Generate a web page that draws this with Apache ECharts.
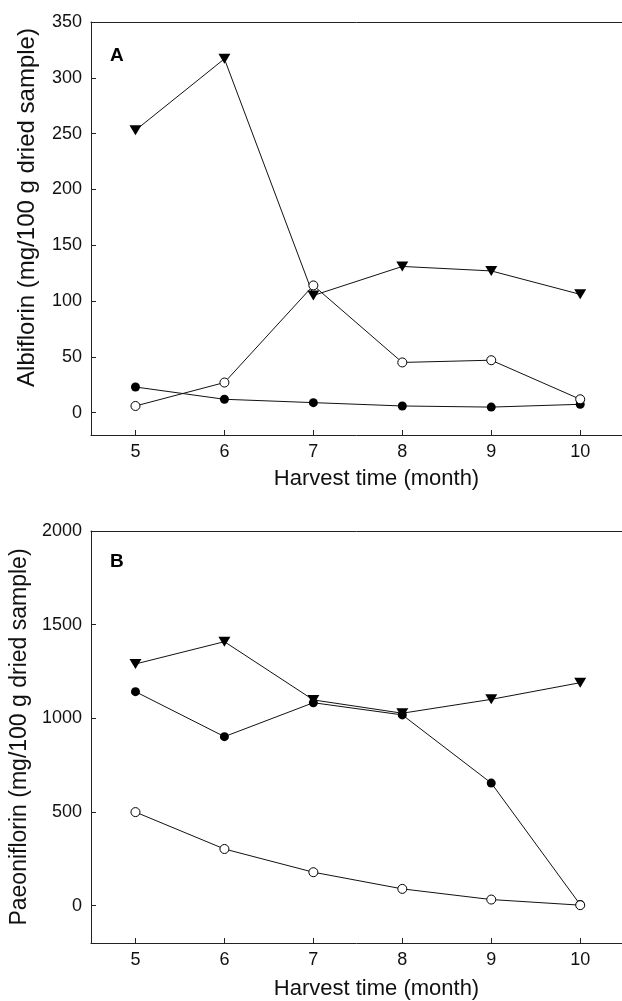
<!DOCTYPE html>
<html>
<head>
<meta charset="utf-8">
<script src="https://cdn.jsdelivr.net/npm/echarts@6/dist/echarts.min.js"></script>
<style>
  html, body { margin: 0; padding: 0; background: #fff; }
  #chart { width: 622px; height: 1001px; }
</style>
</head>
<body>
<div id="chart"></div>
<script>
  // harvest months
  const months = [5, 6, 7, 8, 9, 10];

  // panel A - albiflorin
  const albTriangle = [253, 317, 105, 131, 127, 106];
  const albOpen = [6, 27, 114, 45, 47, 12];
  const albFilled = [23, 12, 9, 6, 5, 7.5];

  // panel B - paeoniflorin
  const paeTriangle = [1290, 1409, 1098, 1027, 1101, 1190];
  const paeFilled = [1142, 902, 1083, 1018, 654, 5];
  const paeOpen = [499, 302, 178, 89, 32, 2];

  const albTicks = [0, 50, 100, 150, 200, 250, 300, 350];
  const paeTicks = [0, 500, 1000, 1500, 2000];

  const chart = echarts.init(document.getElementById('chart'));
  const font = 'Liberation Sans, Arial, sans-serif';
  const ink = '#111';

  const pairs = vals => months.map((m, i) => [m, vals[i]]);

  function bottomAxis(gridIndex, gap) {
    return {
      type: 'value', gridIndex: gridIndex, min: 4.5, max: 10.47,
      name: 'Harvest time (month)', nameLocation: 'middle', nameGap: gap,
      nameTextStyle: { fontFamily: font, fontSize: 22, color: ink, padding: [0, 0, 0, 40] },
      axisLine: { show: true, onZero: false, lineStyle: { color: '#222', width: 1 } },
      axisTick: { show: true, inside: true, length: 5, customValues: months, lineStyle: { color: '#222' } },
      axisLabel: { customValues: months, fontFamily: font, fontSize: 18, color: ink, margin: 8 },
      splitLine: { show: false }
    };
  }
  function topAxis(gridIndex) {
    return {
      type: 'value', gridIndex: gridIndex, position: 'top', min: 4.5, max: 10.47,
      axisLine: { show: true, onZero: false, lineStyle: { color: '#222', width: 1 } },
      axisTick: { show: false }, axisLabel: { show: false }, splitLine: { show: false }
    };
  }
  function leftAxis(gridIndex, min, max, ticks, name, size, pad) {
    return {
      type: 'value', gridIndex: gridIndex, min: min, max: max,
      name: name, nameLocation: 'middle', nameGap: 52,
      nameTextStyle: { fontFamily: font, fontSize: size, color: ink, padding: pad },
      axisLine: { show: true, onZero: false, lineStyle: { color: '#222', width: 1 } },
      axisTick: { show: true, inside: true, length: 5, customValues: ticks, lineStyle: { color: '#222' } },
      axisLabel: { customValues: ticks, fontFamily: font, fontSize: 18, color: ink, margin: 9, formatter: v => String(v) },
      splitLine: { show: false }
    };
  }

  function line(xi, yi, vals, kind) {
    const s = {
      type: 'line', xAxisIndex: xi, yAxisIndex: yi, data: pairs(vals),
      lineStyle: { color: ink, width: 1 }, animation: false, z: 3
    };
    if (kind === 'tri') {
      s.symbol = 'triangle'; s.symbolRotate = 180; s.symbolSize = [12, 10];
      s.itemStyle = { color: '#000' };
    } else if (kind === 'filled') {
      s.symbol = 'circle'; s.symbolSize = 9;
      s.itemStyle = { color: '#000' };
    } else {
      s.symbol = 'circle'; s.symbolSize = 9;
      s.itemStyle = { color: '#fff', borderColor: '#000', borderWidth: 1 };
      s.z = 4;
    }
    return s;
  }

  const option = {
    backgroundColor: '#fff',
    animation: false,
    grid: [
      { left: 91, top: 22, width: 531, height: 413, outerBoundsMode: 'none' },
      { left: 91, top: 531, width: 531, height: 412, outerBoundsMode: 'none' }
    ],
    xAxis: [bottomAxis(0, 33), topAxis(0), bottomAxis(1, 35), topAxis(1)],
    yAxis: [
      leftAxis(0, -20, 350, albTicks, 'Albiflorin (mg/100 g dried sample)', 24, [0, 0, 0, 42]),
      leftAxis(1, -200, 2000, paeTicks, 'Paeoniflorin (mg/100 g dried sample)', 23, 0)
    ],
    graphic: [
      { type: 'text', left: 110, top: 46, style: { text: 'A', fontFamily: font, fontSize: 19, fontWeight: 'bold', fill: '#000' } },
      { type: 'text', left: 110, top: 552, style: { text: 'B', fontFamily: font, fontSize: 19, fontWeight: 'bold', fill: '#000' } }
    ],
    series: [
      line(0, 0, albTriangle, 'tri'),
      line(0, 0, albFilled, 'filled'),
      line(0, 0, albOpen, 'open'),
      line(2, 1, paeTriangle, 'tri'),
      line(2, 1, paeFilled, 'filled'),
      line(2, 1, paeOpen, 'open')
    ]
  };

  chart.setOption(option);
  window.addEventListener('resize', () => chart.resize());
</script>
</body>
</html>
